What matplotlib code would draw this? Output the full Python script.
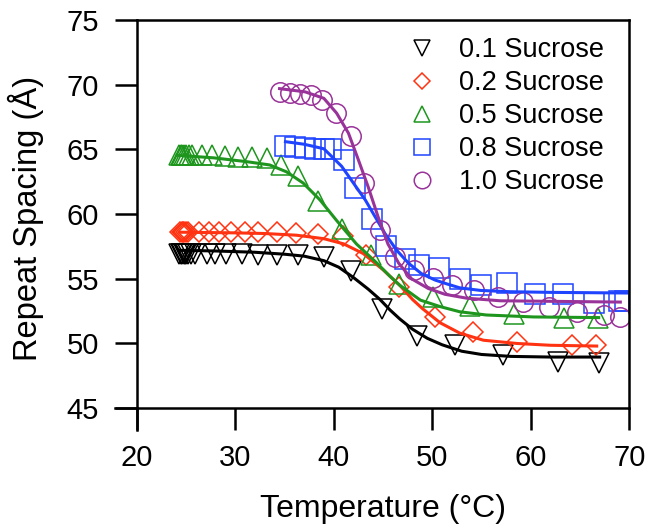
import matplotlib
matplotlib.use('Agg')
import matplotlib.pyplot as plt

plt.rcParams['font.family'] = ['Liberation Sans', 'DejaVu Sans']

# measured points (temperature in C, repeat spacing in A)
t01 = [24.3, 24.45, 24.6, 24.75, 24.9, 25.05, 25.25, 25.5, 25.9, 27.1, 27.95, 29.1, 30.7,
       32.35, 34.2, 36.4, 39.05, 41.8, 44.9, 48.5, 52.3, 57.2, 62.8, 66.9]
d01 = [56.9, 56.9, 56.9, 56.9, 56.9, 56.9, 56.9, 56.9, 56.9, 56.9, 56.9, 56.9, 56.9,
       56.85, 56.85, 56.8, 56.65, 55.6, 52.7, 50.55, 49.85, 49.1, 48.6, 48.5]

t02 = [24.4, 24.55, 24.7, 24.85, 25.0, 25.2, 26.3, 27.3, 28.4, 29.6, 31.0, 32.3, 34.2,
       36.2, 38.4, 40.9, 43.3, 46.6, 50.25, 54.1, 58.65, 64.2, 66.6]
d02 = [58.6, 58.6, 58.6, 58.6, 58.6, 58.6, 58.6, 58.6, 58.6, 58.6, 58.6, 58.6, 58.6,
       58.55, 58.5, 58.3, 56.85, 54.4, 52.05, 50.9, 50.1, 49.85, 49.85]

t05 = [24.3, 24.45, 24.6, 24.8, 25.0, 25.3, 25.6, 26.6, 27.6, 29.0, 30.3, 31.7, 33.2,
       34.65, 36.4, 38.45, 40.8, 43.8, 46.6, 50.1, 53.8, 58.3, 63.4, 66.8]
d05 = [64.6, 64.6, 64.6, 64.6, 64.6, 64.6, 64.6, 64.6, 64.55, 64.5, 64.45, 64.4, 64.3,
       63.8, 62.95, 61.0, 58.85, 56.8, 54.6, 53.6, 52.9, 52.3, 52.0, 52.0]

t08 = [35.1, 36.1, 37.1, 38.1, 39.0, 39.7, 41.0, 42.2, 43.9, 45.3, 47.2, 48.7, 50.7,
       52.8, 55.0, 57.6, 60.4, 63.25, 66.4, 69.0, 69.6]
d08 = [65.25, 65.15, 65.1, 65.05, 65.05, 65.0, 64.2, 62.05, 59.65, 57.5, 56.55, 56.05, 55.8,
       55.0, 54.5, 54.65, 53.85, 53.85, 53.1, 53.3, 53.3]

t10 = [34.55, 35.55, 36.6, 37.7, 38.85, 40.2, 41.75, 43.1, 44.7, 46.2, 48.1, 50.1,
       52.0, 54.2, 56.65, 59.2, 61.9, 64.65, 67.4, 69.1]
d10 = [69.45, 69.4, 69.3, 69.2, 68.85, 67.85, 66.0, 62.4, 58.8, 56.65, 55.65, 55.05,
       54.5, 54.15, 53.6, 53.2, 52.85, 52.45, 52.2, 52.05]

# fitted curves
ft01 = [24.3, 28.0, 32.0, 35.0, 37.0, 39.0, 40.5, 42.0, 43.5, 44.7, 45.7, 46.7, 48.0,
        49.5, 51.0, 53.0, 55.0, 58.0, 62.0, 67.0]
fd01 = [57.2, 57.15, 57.05, 56.9, 56.75, 56.4, 55.9, 55.1, 54.2, 53.4, 52.6, 51.9, 51.1,
        50.4, 49.9, 49.4, 49.15, 49.0, 48.95, 48.95]

ft02 = [24.4, 30.0, 33.0, 36.2, 39.0, 41.0, 43.0, 45.0, 46.7, 48.0, 49.0, 50.8, 52.8,
        55.2, 58.6, 62.0, 66.7]
fd02 = [58.6, 58.55, 58.5, 58.37, 58.1, 57.7, 56.95, 55.7, 54.5, 53.4, 52.7, 51.6, 50.8,
        50.25, 50.0, 49.86, 49.8]

ft05 = [24.1, 27.8, 31.2, 33.5, 35.2, 36.9, 38.6, 40.3, 42.3, 44.4, 45.7, 46.7, 48.8,
        50.8, 52.8, 55.5, 60.3, 66.9]
fd05 = [64.55, 64.35, 64.05, 63.8, 63.27, 62.4, 61.1, 59.5, 57.7, 56.2, 55.2, 54.5, 53.35,
        52.85, 52.45, 52.2, 52.05, 52.0]

ft08 = [35.1, 37.0, 39.0, 40.8, 42.0, 43.2, 44.2, 45.2, 46.4, 47.6, 48.9, 50.3, 51.5,
        52.8, 54.9, 57.9, 62.0, 69.8]
fd08 = [65.6, 65.4, 65.05, 63.7, 62.4, 61.1, 59.8, 58.5, 57.2, 56.2, 55.4, 54.9, 54.6,
        54.3, 54.1, 54.0, 53.95, 53.9]

ft10 = [34.5, 37.1, 39.0, 40.3, 41.5, 42.5, 43.5, 44.5, 45.5, 46.6, 47.9, 49.6, 51.3,
        53.5, 56.9, 69.1]
fd10 = [69.7, 69.45, 68.95, 67.8, 66.25, 64.2, 62.1, 59.8, 57.7, 56.2, 55.0, 54.25, 53.8,
        53.5, 53.3, 53.2]

labels = ['0.1 Sucrose', '0.2 Sucrose', '0.5 Sucrose', '0.8 Sucrose', '1.0 Sucrose']
colors = ['black', '#ff3311', '#1e961e', '#1f44ff', '#993399']
markers = ['v', 'D', '^', 's', 'o']
sizes = [14, 10, 14, 14, 14]

points = [(t01, d01), (t02, d02), (t05, d05), (t08, d08), (t10, d10)]
fits = [(ft01, fd01), (ft02, fd02), (ft05, fd05), (ft08, fd08), (ft10, fd10)]

fig = plt.figure(figsize=(6.48, 5.28), dpi=100)
ax = fig.add_axes([0.211, 0.227, 0.760, 0.735])

for (x, y), c, m, s, lab in zip(points, colors, markers, sizes, labels):
    ax.plot(x, y, linestyle='none', marker=m, ms=s, mfc='none', mec=c, mew=1.1, label=lab)

for (x, y), c in zip(fits, colors):
    ax.plot(x, y, color=c, lw=2.2)

ax.set_xlim(20, 70)
ax.set_ylim(45, 75)
ax.set_xticks([20, 30, 40, 50, 60, 70])
ax.set_yticks([45, 50, 55, 60, 65, 70, 75])
ax.tick_params(direction='out', length=16, width=1.8, labelsize=21)
ax.tick_params(axis='y', pad=11)
ax.tick_params(axis='x', pad=10)
for sp in ax.spines.values():
    sp.set_linewidth(1.8)

# axes cross at the lower left corner
ax.plot([-0.0447, 0], [0, 0], color='black', lw=1.8, transform=ax.transAxes, clip_on=False)
ax.plot([0, 0], [-0.0567, 0], color='black', lw=1.8, transform=ax.transAxes, clip_on=False)

ax.set_xlabel('Temperature (°C)', fontsize=23)
ax.set_ylabel('Repeat Spacing (Å)', fontsize=23.5)
ax.xaxis.set_label_coords(0.5, -0.222)
ax.yaxis.set_label_coords(-0.188, 0.49)

ax.legend(loc='upper left', bbox_to_anchor=(408.5 / 648, 1 - 37 / 528),
          bbox_transform=fig.transFigure, frameon=False, fontsize=19.5,
          markerscale=0.85, handlelength=1.0, handletextpad=0.85,
          labelspacing=0.26, borderpad=0, borderaxespad=0)

fig.savefig('out.png', dpi=100)
